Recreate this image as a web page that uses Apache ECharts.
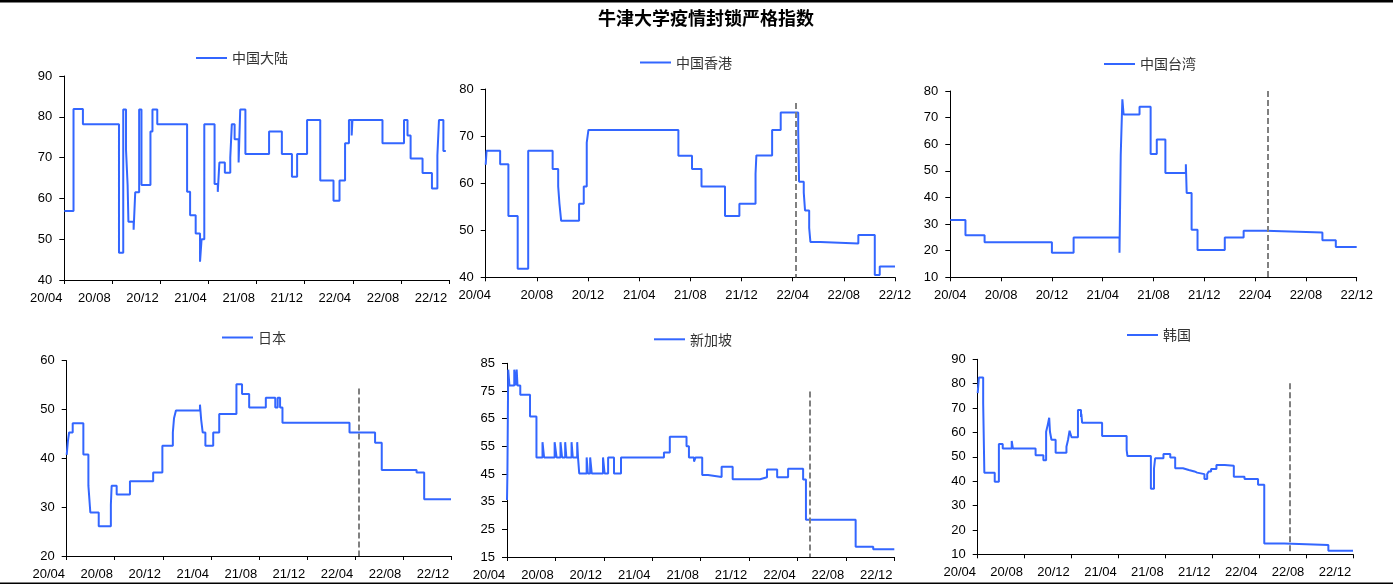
<!DOCTYPE html>
<html>
<head>
<meta charset="utf-8">
<script src="https://cdn.jsdelivr.net/npm/echarts@6/dist/echarts.min.js"></script>
<style>
  html, body { margin: 0; padding: 0; background: #fff; }
  #main { width: 1393px; height: 587px; }
</style>
</head>
<body>
<div id="main"></div>
<script>
// step points: [date the level starts, index value]
const mainland = [
  ['2020-04-01', 56.9], ['2020-04-24', 81.9], ['2020-05-18', 78.2], ['2020-08-18', 46.7],
  ['2020-08-29', 81.8], ['2020-09-05', 71.9], ['2020-09-09', 63.3], ['2020-09-11', 54.3],
  ['2020-09-24', 52.3], ['2020-09-28', 61.5], ['2020-10-08', 81.8], ['2020-10-14', 63.3],
  ['2020-11-06', 76.4], ['2020-11-11', 81.8], ['2020-11-23', 78.2], ['2021-02-07', 61.6],
  ['2021-02-14', 55.9], ['2021-02-27', 51.4], ['2021-03-10', 44.5], ['2021-03-14', 50.0],
  ['2021-03-21', 78.2], ['2021-04-16', 63.5], ['2021-04-24', 61.6], ['2021-04-28', 68.8],
  ['2021-05-12', 66.3], ['2021-05-26', 70.0], ['2021-05-30', 78.2], ['2021-06-06', 74.5],
  ['2021-06-16', 68.8], ['2021-06-20', 81.8], ['2021-07-03', 70.9], ['2021-09-02', 76.4],
  ['2021-10-04', 70.9], ['2021-10-30', 65.3], ['2021-11-12', 70.9], ['2021-12-07', 79.2],
  ['2022-01-10', 64.4], ['2022-02-12', 59.4], ['2022-02-26', 64.4], ['2022-03-12', 73.5],
  ['2022-03-22', 79.2], ['2022-03-29', 75.4], ['2022-03-31', 79.2], ['2022-06-15', 73.5],
  ['2022-08-09', 79.2], ['2022-08-18', 75.4], ['2022-08-26', 69.8], ['2022-09-25', 66.2],
  ['2022-10-19', 62.4], ['2022-11-02', 70.5], ['2022-11-06', 79.2], ['2022-11-17', 71.6],
  ['2022-11-23', 71.6]
];
const hongkong = [
  ['2020-04-01', 63.9], ['2020-04-03', 66.9], ['2020-05-05', 64.0], ['2020-05-25', 53.0],
  ['2020-06-16', 41.8], ['2020-07-11', 66.9], ['2020-09-08', 63.0], ['2020-09-21', 59.3],
  ['2020-09-24', 55.6], ['2020-09-28', 52.0], ['2020-11-10', 55.6], ['2020-11-21', 59.3],
  ['2020-11-28', 68.6], ['2020-12-02', 71.3], ['2021-07-03', 65.8], ['2021-08-05', 63.0],
  ['2021-08-28', 59.3], ['2021-10-23', 53.0], ['2021-11-26', 55.6], ['2022-01-04', 62.0],
  ['2022-01-06', 65.9], ['2022-02-12', 71.3], ['2022-03-03', 75.0], ['2022-04-14', 71.3],
  ['2022-04-16', 60.3], ['2022-04-27', 58.0], ['2022-04-30', 54.2], ['2022-05-10', 50.5],
  ['2022-05-13', 47.5], ['2022-06-06', 47.2], ['2022-09-05', 49.0], ['2022-10-14', 40.5],
  ['2022-10-26', 42.3], ['2022-12-01', 42.3]
];
const taiwan = [
  ['2020-04-01', 31.5], ['2020-05-07', 25.8], ['2020-06-22', 23.2], ['2020-12-01', 19.2],
  ['2021-01-23', 25.0], ['2021-05-11', 19.2], ['2021-05-14', 56.0], ['2021-05-18', 76.9],
  ['2021-05-21', 71.2], ['2021-06-28', 74.1], ['2021-07-25', 56.3], ['2021-08-09', 61.8],
  ['2021-08-30', 49.2], ['2021-10-18', 52.5], ['2021-10-20', 41.7], ['2021-11-01', 27.9],
  ['2021-11-15', 20.3], ['2022-01-20', 25.0], ['2022-03-04', 27.5], ['2022-04-26', 26.8],
  ['2022-09-10', 23.9], ['2022-10-12', 21.4], ['2022-12-01', 21.4]
];
const japan = [
  ['2020-04-01', 40.7], ['2020-04-04', 43.5], ['2020-04-07', 45.3], ['2020-04-16', 47.2],
  ['2020-05-13', 40.8], ['2020-05-26', 34.4], ['2020-05-31', 28.9], ['2020-06-21', 26.1],
  ['2020-07-22', 30.5], ['2020-07-24', 34.4], ['2020-08-06', 32.6], ['2020-09-09', 35.3],
  ['2020-11-07', 37.1], ['2020-11-30', 42.6], ['2020-12-27', 45.3], ['2020-12-30', 48.2],
  ['2021-01-04', 49.8], ['2021-03-04', 51.0], ['2021-03-07', 48.0], ['2021-03-11', 45.3],
  ['2021-03-18', 42.6], ['2021-04-07', 45.3], ['2021-04-22', 49.1], ['2021-06-05', 55.2],
  ['2021-06-19', 53.2], ['2021-07-07', 50.4], ['2021-08-19', 52.4], ['2021-09-12', 50.4],
  ['2021-09-18', 52.4], ['2021-09-24', 50.4], ['2021-09-30', 47.3], ['2022-03-18', 45.3],
  ['2022-05-22', 43.2], ['2022-06-08', 37.6], ['2022-09-05', 37.1], ['2022-09-24', 31.6],
  ['2022-12-01', 31.6]
];
const singapore = [
  ['2020-04-01', 35.6], ['2020-04-02', 45.0], ['2020-04-04', 82.7], ['2020-04-07', 77.0],
  ['2020-04-19', 82.7], ['2020-04-23', 77.0], ['2020-04-25', 82.7], ['2020-04-27', 77.0],
  ['2020-05-04', 73.6], ['2020-05-29', 65.8], ['2020-06-14', 51.0], ['2020-06-29', 56.5],
  ['2020-07-03', 51.0], ['2020-07-30', 56.5], ['2020-08-04', 51.0], ['2020-08-14', 56.5],
  ['2020-08-18', 51.0], ['2020-08-26', 56.5], ['2020-08-29', 51.0], ['2020-09-11', 56.5],
  ['2020-09-14', 51.0], ['2020-09-25', 56.5], ['2020-09-27', 51.0], ['2020-09-30', 45.2],
  ['2020-10-19', 51.0], ['2020-10-22', 45.2], ['2020-10-28', 51.0], ['2020-11-01', 45.2],
  ['2020-11-29', 51.0], ['2020-12-03', 45.2], ['2020-12-12', 51.0], ['2020-12-27', 45.2],
  ['2021-01-14', 51.0], ['2021-04-30', 52.8], ['2021-05-15', 58.5], ['2021-06-26', 55.0],
  ['2021-07-02', 51.0], ['2021-07-15', 49.5], ['2021-07-19', 51.0], ['2021-08-05', 44.6],
  ['2021-08-20', 43.9], ['2021-09-23', 47.6], ['2021-10-21', 43.1], ['2021-12-29', 43.8],
  ['2022-01-16', 46.6], ['2022-02-10', 43.8], ['2022-03-08', 46.9], ['2022-04-15', 43.0],
  ['2022-04-22', 28.5], ['2022-08-26', 18.7], ['2022-10-09', 17.8], ['2022-12-01', 17.8]
];
const korea = [
  ['2020-04-01', 76.1], ['2020-04-04', 82.5], ['2020-04-15', 72.0], ['2020-04-18', 43.5],
  ['2020-05-15', 39.8], ['2020-05-26', 55.3], ['2020-06-05', 53.4], ['2020-06-28', 56.5],
  ['2020-07-01', 53.4], ['2020-08-30', 50.6], ['2020-09-19', 48.6], ['2020-09-26', 60.3],
  ['2020-09-30', 63.0], ['2020-10-04', 66.0], ['2020-10-06', 60.3], ['2020-10-10', 57.0],
  ['2020-10-21', 51.7], ['2020-11-18', 54.1], ['2020-11-22', 56.9], ['2020-11-26', 60.7],
  ['2020-12-01', 58.0], ['2020-12-18', 69.2], ['2020-12-26', 66.3], ['2020-12-27', 67.6],
  ['2020-12-29', 64.0], ['2021-02-18', 58.5], ['2021-04-22', 52.8], ['2021-04-24', 50.3],
  ['2021-06-24', 36.9], ['2021-07-02', 45.2], ['2021-07-05', 49.4], ['2021-07-27', 51.1],
  ['2021-08-14', 49.7], ['2021-08-27', 45.3], ['2021-09-16', 44.6], ['2021-10-01', 44.0],
  ['2021-10-16', 43.5], ['2021-10-23', 42.9], ['2021-11-11', 40.9], ['2021-11-18', 42.9],
  ['2021-11-22', 44.0], ['2021-11-28', 45.0], ['2021-12-12', 46.6], ['2022-01-03', 46.3],
  ['2022-01-27', 41.8], ['2022-02-22', 40.9], ['2022-03-29', 38.5], ['2022-04-14', 14.4],
  ['2022-06-05', 13.8], ['2022-09-28', 11.5], ['2022-12-01', 11.5]
];

// dashed reference lines: [date, top value]
const cutoffs = {
  '中国香港': ['2022-04-09', 77],
  '中国台湾': ['2022-05-01', 80],
  '日本': ['2022-04-11', 54.3],
  '新加坡': ['2022-05-02', 74.8],
  '韩国': ['2022-06-18', 80.2]
};

const yTicks1 = [40, 50, 60, 70, 80, 90];
const yTicks2 = [40, 50, 60, 70, 80];
const yTicks3 = [10, 20, 30, 40, 50, 60, 70, 80];
const yTicks4 = [20, 30, 40, 50, 60];
const yTicks5 = [15, 25, 35, 45, 55, 65, 75, 85];
const yTicks6 = [10, 20, 30, 40, 50, 60, 70, 80, 90];

// x axis = months since 2020/04, tick every 4 months up to 22/12
function toM(s) {
  const [y, m, d] = s.split('-').map(Number);
  const dim = new Date(y, m, 0).getDate();
  return (y - 2020) * 12 + (m - 4) + (d - 1) / dim;
}
function monthLabel(v) {
  const k = Math.round(v) + 3;
  const yy = 20 + Math.floor(k / 12);
  const mm = (k % 12) + 1;
  return yy + '/' + (mm < 10 ? '0' + mm : mm);
}

// shift: how far left the x labels sit from their tick; firstOnly: only the first label moves
const panels = [
  { name: '中国大陆', data: mainland, ticks: yTicks1, grid: [64.3, 76, 384.7, 204], leg: [196, 58], shift: 18 },
  { name: '中国香港', data: hongkong, ticks: yTicks2, grid: [485.7, 89, 409.3, 188.3], leg: [640, 62.5], shift: 11, firstOnly: true },
  { name: '中国台湾', data: taiwan, ticks: yTicks3, grid: [950.3, 91, 406.4, 186.3], leg: [1104, 64], shift: 0 },
  { name: '日本', data: japan, ticks: yTicks4, grid: [66.7, 360.7, 384.3, 195.3], leg: [222, 337.5], shift: 18 },
  { name: '新加坡', data: singapore, ticks: yTicks5, grid: [507, 363.3, 387.3, 193.7], leg: [654, 339.3], shift: 18 },
  { name: '韩国', data: korea, ticks: yTicks6, grid: [977.7, 359.3, 375.3, 195], leg: [1127, 335], shift: 18 }
];

const LINE = '#3366ff';
const AXIS = '#000';
const numFont = 'Liberation Sans, Arial, sans-serif';
const cjkFont = 'Noto Sans CJK SC, sans-serif';

const option = {
  animation: false,
  backgroundColor: '#fff',
  title: {
    text: '牛津大学疫情封锁严格指数',
    left: 598, top: 9, padding: 0,
    textStyle: { fontSize: 18, fontWeight: 'bold', color: '#000', fontFamily: cjkFont }
  },
  graphic: [
    { type: 'rect', shape: { x: 0, y: 0, width: 1393, height: 2.5 }, style: { fill: '#000' } },
    { type: 'rect', shape: { x: 0, y: 582.5, width: 1393, height: 1.5 }, style: { fill: '#000' } }
  ],
  grid: [], xAxis: [], yAxis: [], legend: [], series: []
};

panels.forEach((p, i) => {
  const [l, t, w, h] = p.grid;
  const yMin = p.ticks[0], yMax = p.ticks[p.ticks.length - 1];
  option.grid.push({ left: l, top: t, width: w, height: h, outerBoundsMode: 'none', containLabel: false });

  const xLabel = { fontSize: 13, color: '#000', fontFamily: numFont, margin: 12 };
  if (p.firstOnly) {
    xLabel.formatter = (v) => v === 0 ? '{first|' + monthLabel(v) + '}' : monthLabel(v);
    xLabel.rich = { first: { fontSize: 13, color: '#000', fontFamily: numFont, padding: [0, p.shift * 2, 0, 0] } };
  } else {
    xLabel.formatter = monthLabel;
    if (p.shift) xLabel.padding = [0, p.shift * 2, 0, 0];
  }
  option.xAxis.push({
    gridIndex: i, type: 'value', min: 0, max: 32, interval: 4,
    axisLine: { show: true, onZero: false, lineStyle: { color: AXIS, width: 1 } },
    axisTick: { show: true, length: 4, lineStyle: { color: AXIS } },
    splitLine: { show: false },
    axisLabel: xLabel
  });
  option.yAxis.push({
    gridIndex: i, type: 'value', min: yMin, max: yMax,
    axisLine: { show: true, onZero: false, lineStyle: { color: AXIS, width: 1 } },
    axisTick: { show: true, length: 5, customValues: p.ticks, lineStyle: { color: AXIS } },
    splitLine: { show: false },
    axisLabel: { customValues: p.ticks, fontSize: 13, color: '#000', fontFamily: numFont, margin: 12 }
  });
  option.legend.push({
    data: [p.name], left: p.leg[0], top: p.leg[1] - 7, padding: 0,
    icon: 'rect', itemWidth: 31, itemHeight: 2,
    textStyle: { fontSize: 14, color: '#333', fontFamily: cjkFont }
  });
  const s = {
    name: p.name, type: 'line', step: 'end', xAxisIndex: i, yAxisIndex: i,
    data: p.data.map(([d, v]) => [toM(d), v]),
    showSymbol: false, symbol: 'none',
    itemStyle: { color: LINE },
    lineStyle: { color: LINE, width: 2 }
  };
  const c = cutoffs[p.name];
  if (c) {
    s.markLine = {
      silent: true, symbol: ['none', 'none'], label: { show: false },
      lineStyle: { color: '#808080', type: [6, 3], width: 2 },
      data: [[{ coord: [toM(c[0]), c[1]] }, { coord: [toM(c[0]), yMin] }]]
    };
  }
  option.series.push(s);
});

const chart = echarts.init(document.getElementById('main'), null, { renderer: 'canvas' });
chart.setOption(option);
</script>
</body>
</html>
